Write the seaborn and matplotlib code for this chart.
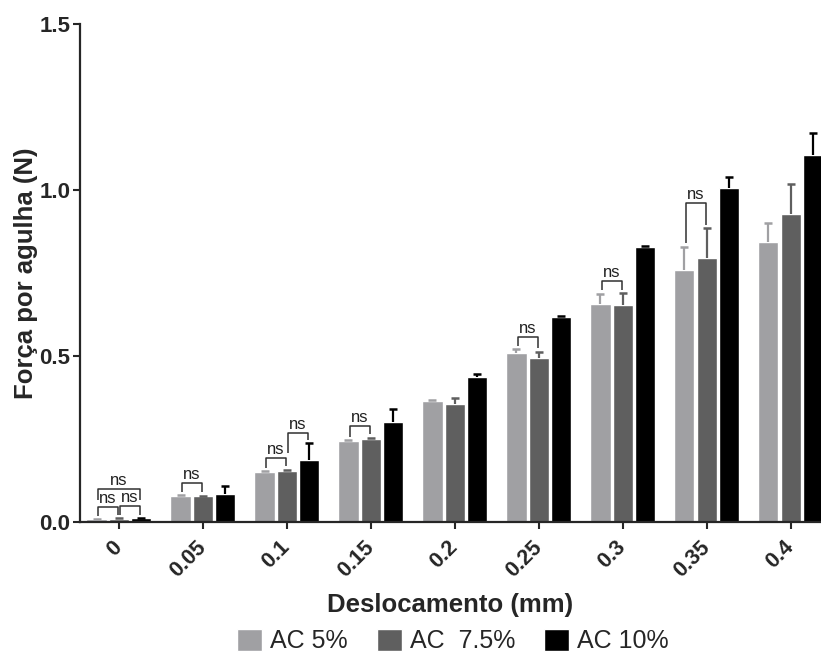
import numpy as np
import pandas as pd
import matplotlib
matplotlib.use("Agg")
import matplotlib.pyplot as plt
import seaborn as sns

categories = ["0", "0.05", "0.1", "0.15", "0.2", "0.25", "0.3", "0.35", "0.4"]
series_names = ["AC 5%", "AC  7.5%", "AC 10%"]
ac5 = [0.008, 0.079, 0.151, 0.244, 0.364, 0.510, 0.658, 0.759, 0.844]
ac75 = [0.010, 0.077, 0.154, 0.249, 0.354, 0.494, 0.655, 0.794, 0.929]
ac10 = [0.011, 0.085, 0.186, 0.302, 0.436, 0.618, 0.829, 1.007, 1.105]
err5 = [0.000, 0.002, 0.003, 0.003, 0.002, 0.011, 0.030, 0.070, 0.057]
err75 = [0.001, 0.002, 0.004, 0.005, 0.021, 0.019, 0.035, 0.092, 0.088]
err10 = [0.001, 0.022, 0.052, 0.038, 0.011, 0.002, 0.002, 0.031, 0.066]
# significance annotations: (group, bar a, bar b, label)
sig_pairs = [(0, 0, 1, "ns"), (0, 1, 2, "ns"), (0, 0, 2, "ns"), (1, 0, 1, "ns"),
             (2, 0, 1, "ns"), (2, 1, 2, "ns"), (3, 0, 1, "ns"), (5, 0, 1, "ns"),
             (6, 0, 1, "ns"), (7, 0, 1, "ns")]

colors = ["#a0a0a3", "#5f5f5f", "#000000"]

sns.set_style("ticks")
plt.rcParams["font.family"] = ["Liberation Sans", "DejaVu Sans"]

df = pd.DataFrame({
    "cat": categories * 3,
    "serie": np.repeat(series_names, len(categories)),
    "val": ac5 + ac75 + ac10,
})

fig = plt.figure(figsize=(8.21, 6.55), dpi=100)
ax = fig.add_axes([80 / 821, 1 - 522 / 655, 741 / 821, (522 - 24) / 655])

sns.barplot(data=df, x="cat", y="val", hue="serie", order=categories,
            hue_order=series_names, palette=colors, errorbar=None,
            width=0.8, gap=0.1, saturation=1, ax=ax, legend=True)

errs = [err5, err75, err10]
vals = [ac5, ac75, ac10]
centers = {}
bar_conts = list(ax.containers)
for s, cont in enumerate(bar_conts):
    xs = [p.get_x() + p.get_width() / 2 for p in cont.patches]
    for g, x in enumerate(xs):
        centers[(g, s)] = x
    eb = ax.errorbar(xs, vals[s], yerr=[np.zeros(len(xs)), errs[s]], fmt="none",
                     ecolor=colors[s], elinewidth=1.6, capsize=2.8, capthick=1.8,
                     zorder=3)
    for cl in eb.lines[1]:
        if np.allclose(cl.get_ydata(), vals[s]):
            cl.set_visible(False)

def top(g, s):
    return vals[s][g] + errs[s][g]

for g, a, b, lab in sig_pairs:
    ya, yb = top(g, a) + 0.01, top(g, b) + 0.01
    if (g, a, b) == (0, 0, 2):
        ya = yb = 0.066
        ytop = 0.098
    else:
        ytop = max(ya, yb) + 0.025
        if (g, a, b) == (2, 1, 2):
            ya = 0.207
            ytop = 0.267
        if (g, a, b) == (7, 0, 1):
            ytop = 0.96
    xa = centers[(g, a)] + 0.015
    xb = centers[(g, b)] - 0.015
    ax.plot([xa, xa, xb, xb], [ya, ytop, ytop, yb], color="#303030", lw=1.1,
            zorder=4, solid_capstyle="butt")
    ax.text((xa + xb) / 2, ytop + 0.003, lab, ha="center", va="bottom",
            fontsize=12, color="#202020")

ax.set_xlim(-0.464, 8.36)
ax.set_ylim(0, 1.5)
ax.set_yticks([0, 0.5, 1.0, 1.5])
ax.set_yticklabels(["0.0", "0.5", "1.0", "1.5"], fontsize=16, fontweight="bold")
ax.set_xticks(range(len(categories)))
ax.set_xticklabels(categories, rotation=45, ha="right", va="center",
                   rotation_mode="anchor", fontsize=15.5, fontweight="bold")
ax.tick_params(axis="x", pad=11, length=5, width=1.5)
ax.tick_params(axis="y", length=5, width=1.5, pad=2)
for sp in ["left", "bottom"]:
    ax.spines[sp].set_linewidth(1.6)
sns.despine(ax=ax)
ax.set_xlabel("Deslocamento (mm)", fontsize=18.5, fontweight="bold", labelpad=8)
ax.set_ylabel("Força por agulha (N)", fontsize=18.5, fontweight="bold", labelpad=1)

handles, labels = ax.get_legend_handles_labels()
ax.get_legend().remove()
fig.legend(handles, labels, loc="center", bbox_to_anchor=(453 / 821, 1 - 641 / 655),
           ncol=3, frameon=False, fontsize=18, handlelength=1.0,
           handleheight=1.0, handletextpad=0.32, columnspacing=1.15,
           borderpad=0)

fig.savefig("out.png", dpi=100)
